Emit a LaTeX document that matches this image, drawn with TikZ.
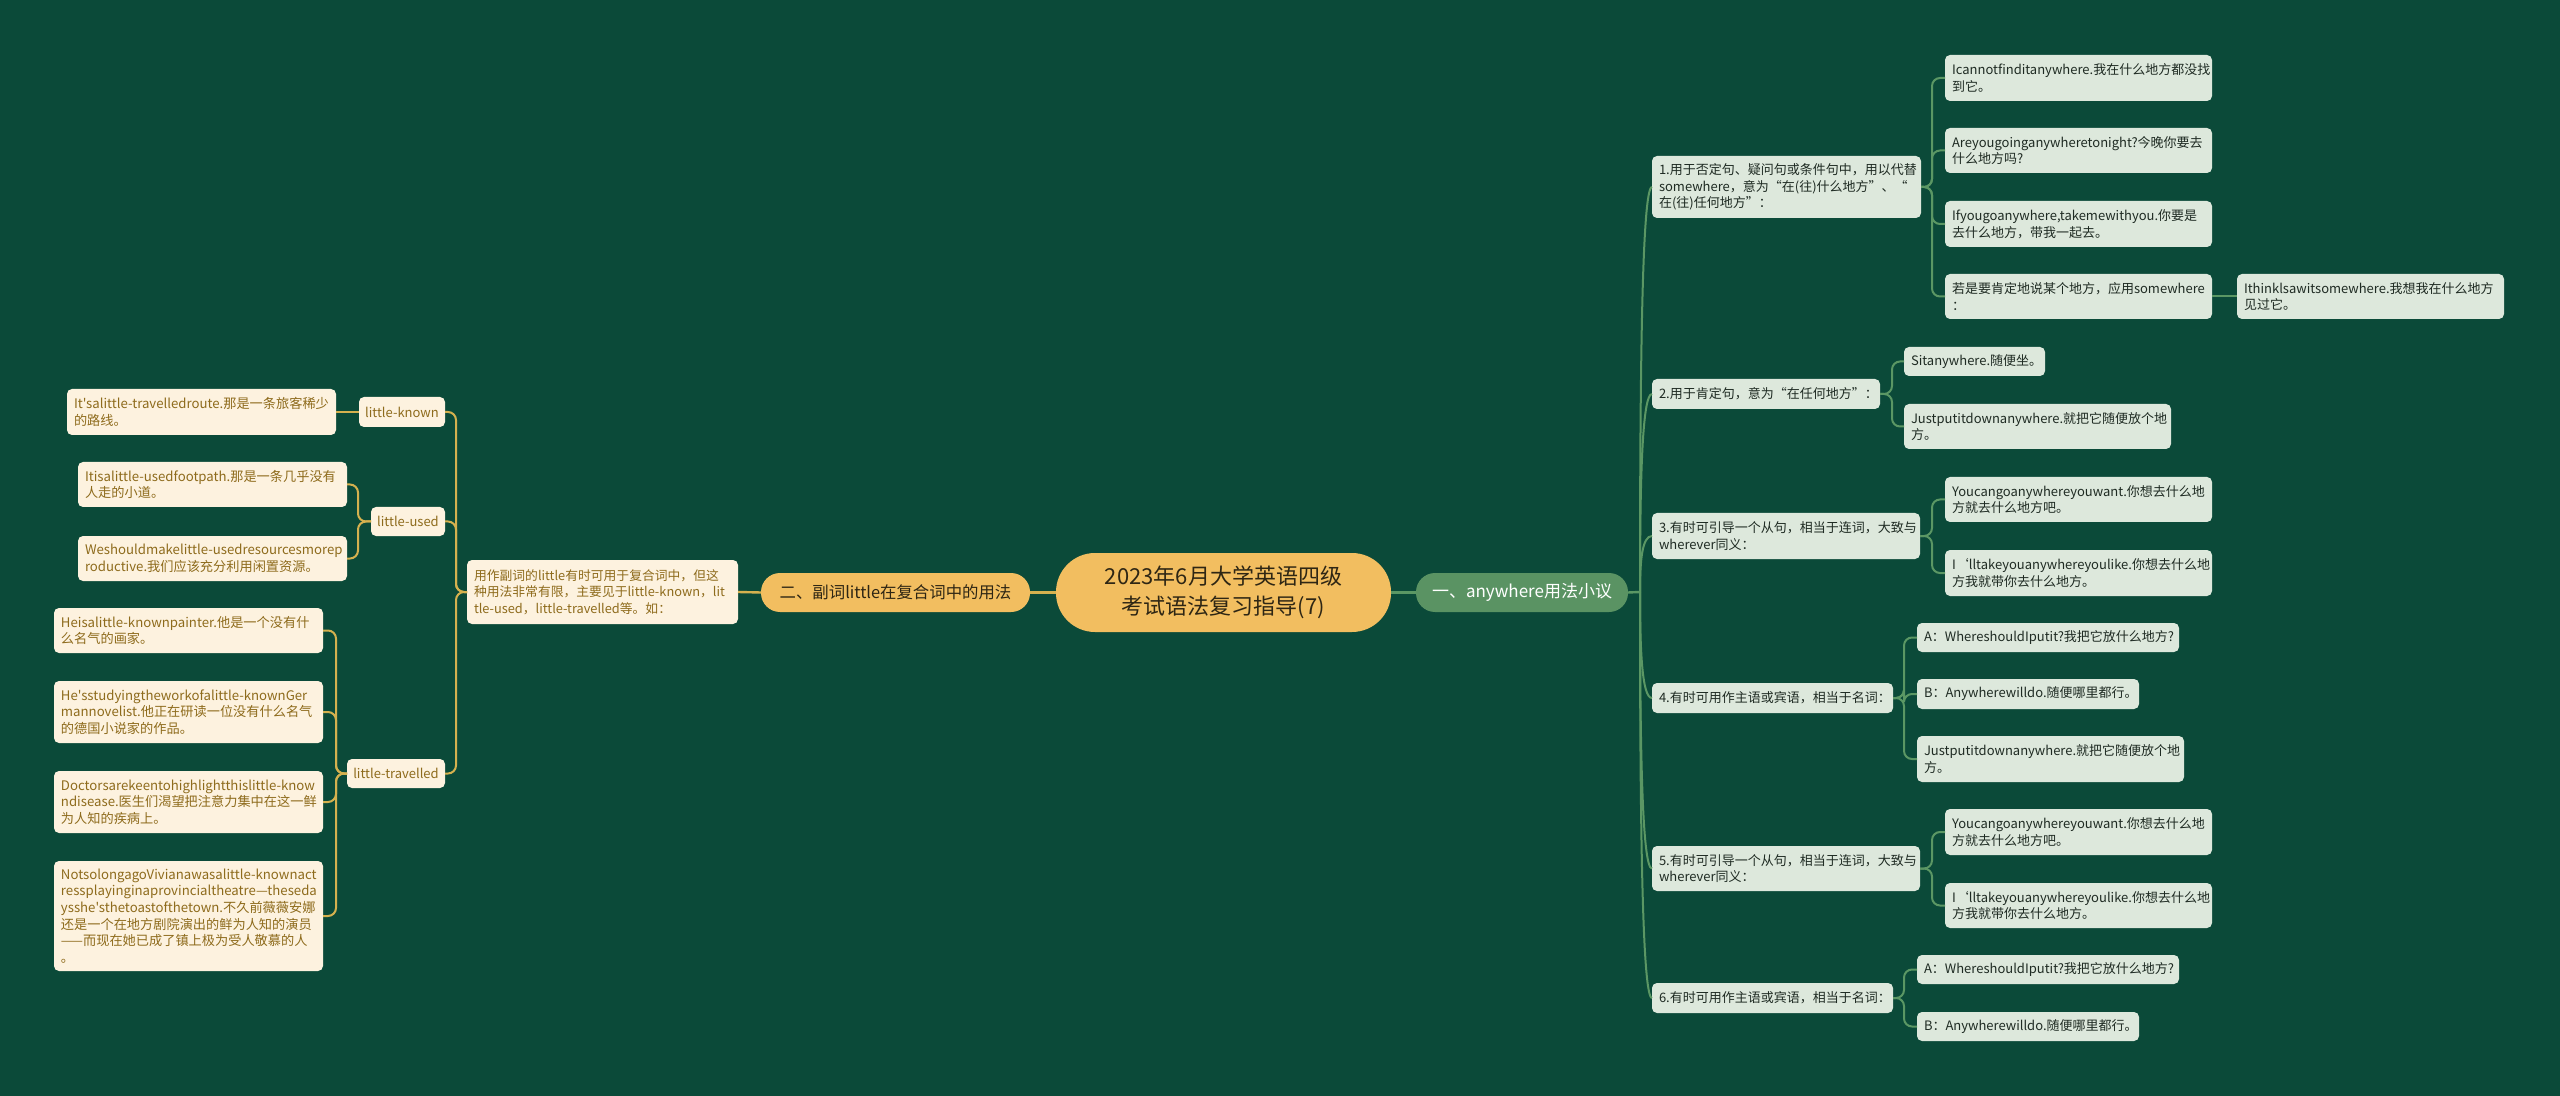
\documentclass[tikz,border=0pt]{standalone}
\usepackage{fontspec}
\setmainfont{Noto Sans CJK SC}[Ligatures=TeXOff]
\usetikzlibrary{calc}
\definecolor{bg}{HTML}{0B4A39}
\definecolor{rfill}{HTML}{DDE8DC}
\definecolor{rtext}{HTML}{1F2B23}
\definecolor{rline}{HTML}{5B9764}
\definecolor{rbr}{HTML}{5A9363}
\definecolor{gold}{HTML}{F2BE60}
\definecolor{lfill}{HTML}{FDF2DF}
\definecolor{ltext}{HTML}{8E6B1C}
\definecolor{lline}{HTML}{D5B14F}
\definecolor{ctext}{HTML}{2E2614}
\newcommand{\nobrk}{\hyphenpenalty=10000 \exhyphenpenalty=10000 }
\tikzset{
  box/.style 2 args={anchor=north west, outer sep=0pt, inner xsep=3.5pt, inner ysep=0pt,
    minimum width={#1*0.5pt}, text width={(#1-14)*0.5pt}, minimum height={#2*0.5pt},
    align=left, rounded corners=2.5pt, font=\fontsize{6.5}{8.35}\selectfont\nobrk},
  tag/.style 2 args={anchor=north west, outer sep=0pt, inner sep=0pt,
    minimum width={#1*0.5pt}, minimum height={#2*0.5pt}, align=center,
    rounded corners=2.5pt, font=\fontsize{6.5}{8.35}\selectfont},
  rnode/.style={fill=rfill, text=rtext},
  lnode/.style={fill=lfill, text=ltext},
  lfont/.style={font=\fontsize{6.6}{8.35}\selectfont\nobrk},
  rl/.style={draw=rline, line width=1pt, rounded corners=4pt},
  ll/.style={draw=lline, line width=1pt, rounded corners=4pt},
}
\begin{document}
\begin{tikzpicture}[x=0.5pt,y=-0.5pt]
\fill[bg] (0,0) rectangle (2560,1096);
\useasboundingbox (0,0) rectangle (2560,1096);

% centre and branches
\node[anchor=north west, outer sep=0pt, minimum width=167.5pt, minimum height=39.5pt, rounded corners=19.5pt,
  fill=gold, text=ctext, align=center, font=\fontsize{11}{15}\selectfont] (c) at (1056,553)
  {2023年6月大学英语四级\\考试语法复习指导(7)};
\node[anchor=north west, outer sep=0pt, minimum width=106pt, minimum height=19.5pt, rounded corners=9.5pt,
  fill=rbr, text=white, font=\fontsize{8.5}{10}\selectfont] (rb) at (1416,573) {一、anywhere用法小议};
\node[anchor=north west, outer sep=0pt, minimum width=134.5pt, minimum height=19.5pt, rounded corners=9.5pt,
  fill=gold, text=ctext, font=\fontsize{8.2}{10}\selectfont] (lb) at (761,573) {二、副词little在复合词中的用法};

% right side level 2
\node[box={269}{62}, rnode] (n1) at (1652,156) {1.用于否定句、疑问句或条件句中，用以代替\\somewhere，意为“在(往)什么地方”、“\\在(往)任何地方”：};
\node[box={228}{30}, rnode] (n2) at (1652,379) {2.用于肯定句，意为“在任何地方”：};
\node[box={268}{46}, rnode] (n3) at (1652,513) {3.有时可引导一个从句，相当于连词，大致与\\wherever同义：};
\node[box={241}{30}, rnode] (n4) at (1652,683) {4.有时可用作主语或宾语，相当于名词：};
\node[box={268}{45}, rnode] (n5) at (1652,846) {5.有时可引导一个从句，相当于连词，大致与\\wherever同义：};
\node[box={241}{30}, rnode] (n6) at (1652,983) {6.有时可用作主语或宾语，相当于名词：};

% right leaves
\node[box={267}{46}, rnode] (a1) at (1945,55) {Icannotfinditanywhere.我在什么地方都没找\\到它。};
\node[box={267}{45}, rnode] (a2) at (1945,128) {Areyougoinganywheretonight?今晚你要去\\什么地方吗?};
\node[box={267}{46}, rnode] (a3) at (1945,201) {Ifyougoanywhere,takemewithyou.你要是\\去什么地方，带我一起去。};
\node[box={267}{45}, rnode] (a4) at (1945,274) {若是要肯定地说某个地方，应用somewhere\\：};
\node[box={267}{45}, rnode] (a5) at (2237,274) {Ithinklsawitsomewhere.我想我在什么地方\\见过它。};
\node[box={141}{29}, rnode] (b1) at (1904,347) {Sitanywhere.随便坐。};
\node[box={267}{45}, rnode] (b2) at (1904,404) {Justputitdownanywhere.就把它随便放个地\\方。};
\node[box={267}{45}, rnode] (c1) at (1945,477) {Youcangoanywhereyouwant.你想去什么地\\方就去什么地方吧。};
\node[box={267}{46}, rnode] (c2) at (1945,550) {I‘lltakeyouanywhereyoulike.你想去什么地\\方我就带你去什么地方。};
\node[box={262}{29}, rnode] (d1) at (1917,623) {A：WhereshouldIputit?我把它放什么地方?};
\node[box={222}{30}, rnode] (d2) at (1917,679) {B：Anywherewilldo.随便哪里都行。};
\node[box={267}{46}, rnode] (d3) at (1917,736) {Justputitdownanywhere.就把它随便放个地\\方。};
\node[box={267}{46}, rnode] (e1) at (1945,809) {Youcangoanywhereyouwant.你想去什么地\\方就去什么地方吧。};
\node[box={267}{45}, rnode] (e2) at (1945,883) {I‘lltakeyouanywhereyoulike.你想去什么地\\方我就带你去什么地方。};
\node[box={262}{29}, rnode] (f1) at (1917,955) {A：WhereshouldIputit?我把它放什么地方?};
\node[box={222}{29}, rnode] (f2) at (1917,1012) {B：Anywherewilldo.随便哪里都行。};

% left side
\node[box={271}{64}, lnode, font=\fontsize{6.4}{8.35}\selectfont\nobrk] (s) at (467,560) {用作副词的little有时可用于复合词中，但这\\种用法非常有限，主要见于little-known，lit\\tle-used，little-travelled等。如：};
\node[tag={86}{30}, lnode] (lk) at (359,397) {little-known};
\node[tag={74}{29}, lnode] (lu) at (371,507) {little-used};
\node[tag={98}{29}, lnode] (lt) at (347,759) {little-travelled};

\node[box={269}{46}, lnode, lfont] (L1) at (67,389) {It'salittle-travelledroute.那是一条旅客稀少\\的路线。};
\node[box={269}{45}, lnode, lfont] (L2) at (78,462) {Itisalittle-usedfootpath.那是一条几乎没有\\人走的小道。};
\node[box={269}{45}, lnode, lfont] (L3) at (78,536) {Weshouldmakelittle-usedresourcesmorep\\roductive.我们应该充分利用闲置资源。};
\node[box={269}{45}, lnode, lfont] (L4) at (54,608) {Heisalittle-knownpainter.他是一个没有什\\么名气的画家。};
\node[box={269}{62}, lnode, lfont] (L5) at (54,681) {He'sstudyingtheworkofalittle-knownGer\\mannovelist.他正在研读一位没有什么名气\\的德国小说家的作品。};
\node[box={269}{62}, lnode, lfont] (L6) at (54,771) {Doctorsarekeentohighlightthislittle-know\\ndisease.医生们渴望把注意力集中在这一鲜\\为人知的疾病上。};
\node[box={269}{110}, lnode, lfont] (L7) at (54,861) {NotsolongagoVivianawasalittle-knownact\\ressplayinginaprovincialtheatre—theseda\\ysshe'sthetoastofthetown.不久前薇薇安娜\\还是一个在地方剧院演出的鲜为人知的演员\\——而现在她已成了镇上极为受人敬慕的人\\。};

% main connectors
\draw[draw=lline, line width=1.5pt] (c.west) -- (lb.east);
\draw[draw=rline, line width=1.5pt] (c.east) -- (rb.west);
\draw[draw=lline, line width=1.2pt] (lb.west) -- (s.east);

% right trunk
\coordinate (rt) at (1640,592);
\draw[draw=rline, line width=1.2pt] (rb.east) -- (rt);
\foreach \n in {n1,n2,n3,n4,n5,n6}{
  \draw[draw=rline, line width=1pt] (rt) .. controls ($(rt)!0.55!(rt |- \n.west)$) and ($(rt |- \n.west)+(2,0)$) .. (\n.west);
}

% right level 3
\foreach \k in {a1,a2,a3,a4}{\draw[rl] (n1.east) -- ++(11,0) |- (\k.west);}
\draw[rl] (a4.east) -- (a5.west);
\foreach \k in {b1,b2}{\draw[rl] (n2.east) -- ++(12,0) |- (\k.west);}
\foreach \k in {c1,c2}{\draw[rl] (n3.east) -- ++(12,0) |- (\k.west);}
\foreach \k in {d1,d2,d3}{\draw[rl] (n4.east) -- ++(11,0) |- (\k.west);}
\foreach \k in {e1,e2}{\draw[rl] (n5.east) -- ++(12,0) |- (\k.west);}
\foreach \k in {f1,f2}{\draw[rl] (n6.east) -- ++(11,0) |- (\k.west);}

% left levels
\foreach \k in {lk,lu,lt}{\draw[ll] (s.west) -- ++(-11,0) |- (\k.east);}
\draw[ll] (lk.west) -- (L1.east);
\foreach \k in {L2,L3}{\draw[ll] (lu.west) -- ++(-13,0) |- (\k.east);}
\foreach \k in {L4,L5,L6,L7}{\draw[ll] (lt.west) -- ++(-11,0) |- (\k.east);}
\end{tikzpicture}
\end{document}
